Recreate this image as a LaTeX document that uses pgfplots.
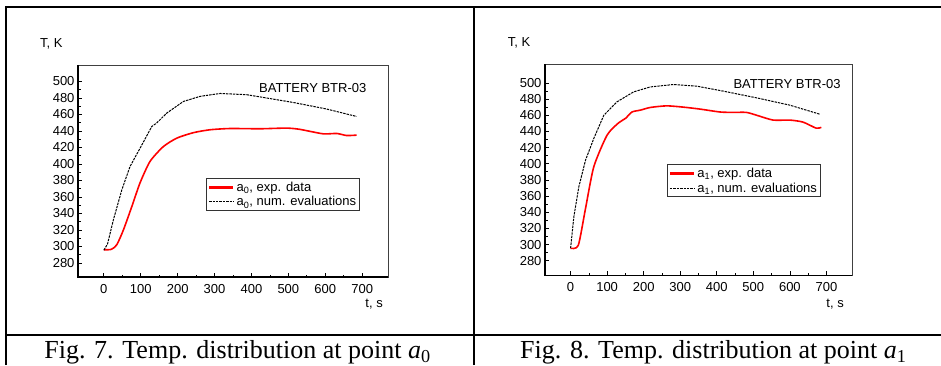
\documentclass[border=0pt]{standalone}
\usepackage{pgfplots}
\pgfplotsset{compat=1.18}
\usepackage{fontspec}
\setmainfont{Liberation Sans}
\newfontfamily\capfont{Liberation Serif}

% measured temperature histories (t in s, T in K)
\pgfplotstableread{
t T
0 296
20 296.5
35 302
53 320
76 348.6
98 377
125 403
161 421
198 431.4
243 438
288 441.5
342 443
423 442.7
495 443.5
531 442
594 436.6
631 437
658 434.5
685 435
}\expA
\pgfplotstableread{
t T
0 295.5
10 303
26 332.5
49 369
71 397
98 419
130 445.5
143 449.6
170.5 461.7
215.6 475.8
261 482
315 485.5
387 484
441 480
513 474.6
604 466.6
685 457.6
}\numA
\pgfplotstableread{
t T
0 295.5
21 299
41 345
63.6 396.4
100 435.5
131.7 450.7
150 456
168 464
191 466.3
218 469.6
263 471.6
309 470
354 467.6
409 464
445 463.5
481 463.5
509 460
554 454
599.5 454
636 451.5
672 444
686 445
}\expB
\pgfplotstableread{
t T
0 295.5
9 334.7
22.7 371.7
41 404.6
63.6 431.4
91 460
127 476.6
172.5 488.9
218 495
281.5 498
345 496
418 489.8
509 481.5
599.5 472.5
681 461.4
}\numB

\pgfplotsset{
  btr/.style={
    scale only axis,
    xmin=-70, xmax=770,
    xtick={0,100,...,700},
    ytick={280,300,...,500},
    minor x tick num=1,
    minor y tick num=1,
    xtick pos=bottom, ytick pos=left,
    tick align=inside,
    major tick length=4pt,
    minor tick length=2.5pt,
    tick style={black, line width=0.7pt},
    axis line style={black!75, line width=0.8pt},
    /pgf/number format/assume math mode=true,
    /pgf/number format/1000 sep={},
    tick label style={font=\fontsize{13}{15}\selectfont},
    xticklabel style={yshift=-3.5pt},
    legend cell align=left,
    legend style={draw=black!80, line width=0.8pt, inner xsep=1.5pt, inner ysep=1pt,
      font=\fontsize{13}{15}\selectfont, row sep=0pt},
    legend image code/.code={\draw[#1] (0pt,0pt) -- (24pt,0pt);},
    clip=false,
  },
  expline/.style={red, line width=1.6pt, smooth, tension=0.4,
    legend image code/.code={\draw[red, line width=3pt] (0pt,0pt) -- (24pt,0pt);}},
  numline/.style={black, line width=1pt, dash pattern=on 2.4pt off 1pt},
}

\begin{document}
\begin{tikzpicture}
\useasboundingbox (0pt,0pt) rectangle (941pt,365pt);

% table frame
\draw[line width=2pt] (6pt,0pt) -- (6pt,358.3pt) -- (941pt,358.3pt);
\draw[line width=2pt] (474pt,0pt) -- (474pt,358.3pt);
\draw[line width=2pt] (6pt,30pt) -- (941pt,30pt);

% left panel
\begin{axis}[btr, at={(78pt,300pt)}, anchor=north west,
    width=310pt, height=212pt, ymin=263, ymax=520,
    legend style={at={(0.412,0.466)}, anchor=north west}]
  \addplot[expline] table[x=t, y=T] {\expA};
  \addlegendentry{a\textsubscript{0}, exp. data}
  \addplot[numline] table[x=t, y=T] {\numA};
  \addlegendentry{a\textsubscript{0}, num. evaluations}
  \draw[black, line width=1.5pt] (rel axis cs:0,1) -- (rel axis cs:0,0) -- (rel axis cs:1,0);
\end{axis}
\node[anchor=base west, inner sep=0pt, font=\fontsize{13}{15}\selectfont] at (40pt,317pt) {T, K};
\node[anchor=base east, inner sep=0pt, font=\fontsize{13}{15}\selectfont] at (383pt,58pt) {t, s};
\node[anchor=base west, inner sep=0pt, font=\fontsize{13}{15}\selectfont] at (259pt,273pt) {BATTERY BTR-03};

% right panel
\begin{axis}[btr, at={(545pt,300.7pt)}, anchor=north west,
    width=307pt, height=211pt, ymin=262, ymax=523,
    legend style={at={(0.396,0.526)}, anchor=north west}]
  \addplot[expline] table[x=t, y=T] {\expB};
  \addlegendentry{a\textsubscript{1}, exp. data}
  \addplot[numline] table[x=t, y=T] {\numB};
  \addlegendentry{a\textsubscript{1}, num. evaluations}
  \draw[black, line width=1.5pt] (rel axis cs:0,1) -- (rel axis cs:0,0) -- (rel axis cs:1,0);
\end{axis}
\node[anchor=base west, inner sep=0pt, font=\fontsize{13}{15}\selectfont] at (507.7pt,318.3pt) {T, K};
\node[anchor=base east, inner sep=0pt, font=\fontsize{13}{15}\selectfont] at (844pt,58pt) {t, s};
\node[anchor=base west, inner sep=0pt, font=\fontsize{13}{15}\selectfont] at (733.3pt,276.7pt) {BATTERY BTR-03};

% captions
\node[anchor=base, inner sep=0pt, font=\capfont\fontsize{26}{28}\selectfont] at (237.5pt,6.5pt)
  {Fig. 7. Temp. distribution at point \textit{a}\textsubscript{0}};
\node[anchor=base, inner sep=0pt, font=\capfont\fontsize{26}{28}\selectfont] at (713.3pt,6.5pt)
  {Fig. 8. Temp. distribution at point \textit{a}\textsubscript{1}};
\end{tikzpicture}
\end{document}
